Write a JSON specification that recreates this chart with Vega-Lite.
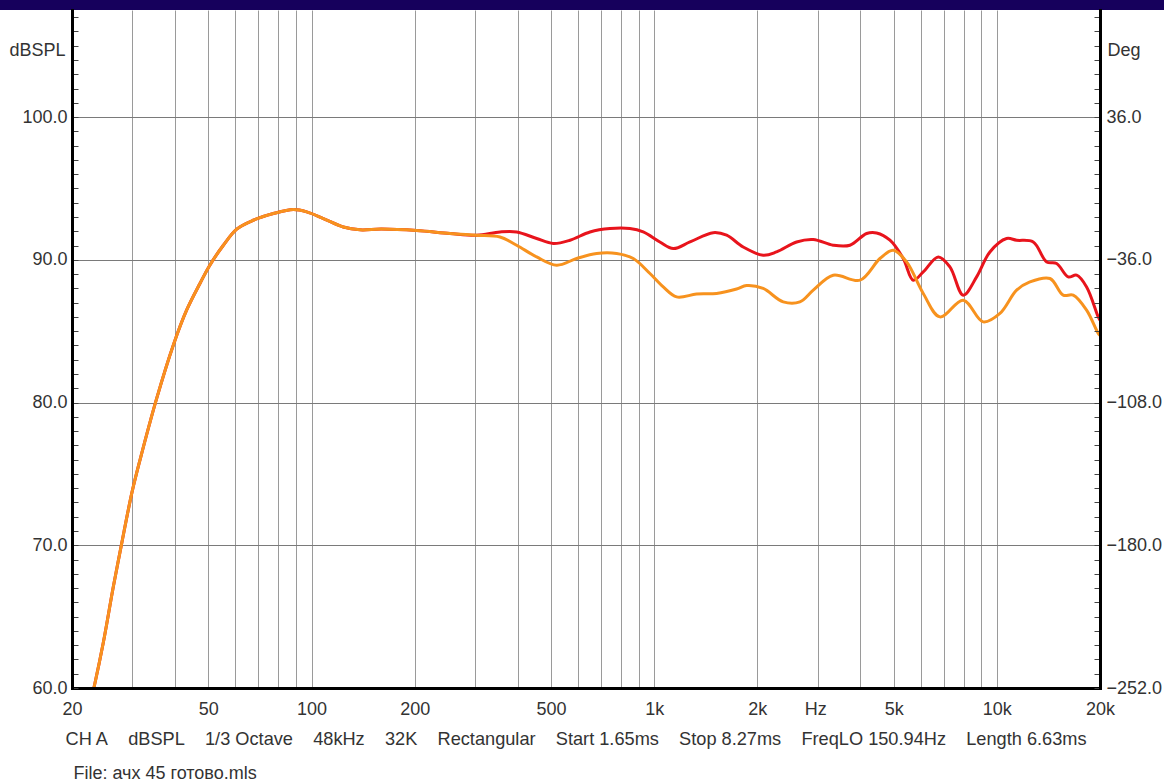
{
  "$schema": "https://vega.github.io/schema/vega-lite/v6.json",
  "width": 1028,
  "height": 678,
  "autosize": {"type": "none"},
  "padding": {"left": 72, "top": 10, "right": 64, "bottom": 94},
  "background": "white",
  "config": {
    "view": {"stroke": null},
    "font": "Liberation Sans",
    "axis": {
      "labelFont": "Liberation Sans",
      "titleFont": "Liberation Sans",
      "labelFontSize": 18,
      "titleFontSize": 18,
      "labelColor": "#333333",
      "titleColor": "#333333",
      "titleFontWeight": "normal",
      "labelFlush": false,
      "labelOverlap": false,
      "labelBound": false
    }
  },
  "datasets": {
    "curves": [
      {"curve": "red", "f": 22.8, "db": 59.3},
      {"curve": "red", "f": 23.34, "db": 60.35},
      {"curve": "red", "f": 24.67, "db": 63.15},
      {"curve": "red", "f": 26.4, "db": 67.09},
      {"curve": "red", "f": 27.93, "db": 70.13},
      {"curve": "red", "f": 29.88, "db": 73.63},
      {"curve": "red", "f": 31.58, "db": 75.97},
      {"curve": "red", "f": 35.35, "db": 80.31},
      {"curve": "red", "f": 39.5, "db": 84.02},
      {"curve": "red", "f": 43.2, "db": 86.47},
      {"curve": "red", "f": 47.3, "db": 88.36},
      {"curve": "red", "f": 50.5, "db": 89.62},
      {"curve": "red", "f": 55.3, "db": 91.02},
      {"curve": "red", "f": 60.5, "db": 92.15},
      {"curve": "red", "f": 67.6, "db": 92.77},
      {"curve": "red", "f": 77.4, "db": 93.24},
      {"curve": "red", "f": 88.5, "db": 93.52},
      {"curve": "red", "f": 96.8, "db": 93.36},
      {"curve": "red", "f": 108.3, "db": 92.89},
      {"curve": "red", "f": 123.8, "db": 92.3},
      {"curve": "red", "f": 138.5, "db": 92.1},
      {"curve": "red", "f": 160, "db": 92.15},
      {"curve": "red", "f": 202.7, "db": 92.05},
      {"curve": "red", "f": 253.6, "db": 91.84},
      {"curve": "red", "f": 303.4, "db": 91.72},
      {"curve": "red", "f": 354.8, "db": 91.95},
      {"curve": "red", "f": 396.9, "db": 91.95},
      {"curve": "red", "f": 454, "db": 91.49},
      {"curve": "red", "f": 507.6, "db": 91.14},
      {"curve": "red", "f": 568, "db": 91.37},
      {"curve": "red", "f": 649.6, "db": 91.95},
      {"curve": "red", "f": 743, "db": 92.19},
      {"curve": "red", "f": 849.6, "db": 92.19},
      {"curve": "red", "f": 929, "db": 91.95},
      {"curve": "red", "f": 1039, "db": 91.25},
      {"curve": "red", "f": 1137, "db": 90.79},
      {"curve": "red", "f": 1272, "db": 91.25},
      {"curve": "red", "f": 1487, "db": 91.9},
      {"curve": "red", "f": 1627, "db": 91.72},
      {"curve": "red", "f": 1819, "db": 90.9},
      {"curve": "red", "f": 2080, "db": 90.32},
      {"curve": "red", "f": 2276, "db": 90.55},
      {"curve": "red", "f": 2604, "db": 91.25},
      {"curve": "red", "f": 2912, "db": 91.42},
      {"curve": "red", "f": 3330, "db": 91.02},
      {"curve": "red", "f": 3726, "db": 91.02},
      {"curve": "red", "f": 4168, "db": 91.84},
      {"curve": "red", "f": 4458, "db": 91.88},
      {"curve": "red", "f": 4876, "db": 91.37},
      {"curve": "red", "f": 5331, "db": 90.09},
      {"curve": "red", "f": 5702, "db": 88.57},
      {"curve": "red", "f": 6098, "db": 89.15},
      {"curve": "red", "f": 6746, "db": 90.2},
      {"curve": "red", "f": 7295, "db": 89.5},
      {"curve": "red", "f": 7978, "db": 87.52},
      {"curve": "red", "f": 8730, "db": 88.8},
      {"curve": "red", "f": 9544, "db": 90.55},
      {"curve": "red", "f": 10678, "db": 91.49},
      {"curve": "red", "f": 11420, "db": 91.37},
      {"curve": "red", "f": 12770, "db": 91.25},
      {"curve": "red", "f": 13976, "db": 89.85},
      {"curve": "red", "f": 14943, "db": 89.74},
      {"curve": "red", "f": 16152, "db": 88.8},
      {"curve": "red", "f": 17090, "db": 88.92},
      {"curve": "red", "f": 18278, "db": 88.1},
      {"curve": "red", "f": 19762, "db": 86.0},
      {"curve": "red", "f": 20000, "db": 85.77},

      {"curve": "orange", "f": 22.8, "db": 59.3},
      {"curve": "orange", "f": 23.34, "db": 60.35},
      {"curve": "orange", "f": 24.67, "db": 63.15},
      {"curve": "orange", "f": 26.4, "db": 67.09},
      {"curve": "orange", "f": 27.93, "db": 70.13},
      {"curve": "orange", "f": 29.88, "db": 73.63},
      {"curve": "orange", "f": 31.58, "db": 75.97},
      {"curve": "orange", "f": 35.35, "db": 80.31},
      {"curve": "orange", "f": 39.5, "db": 84.02},
      {"curve": "orange", "f": 43.2, "db": 86.47},
      {"curve": "orange", "f": 47.3, "db": 88.36},
      {"curve": "orange", "f": 50.5, "db": 89.62},
      {"curve": "orange", "f": 55.3, "db": 91.02},
      {"curve": "orange", "f": 60.5, "db": 92.15},
      {"curve": "orange", "f": 67.6, "db": 92.77},
      {"curve": "orange", "f": 77.4, "db": 93.24},
      {"curve": "orange", "f": 88.5, "db": 93.52},
      {"curve": "orange", "f": 96.8, "db": 93.36},
      {"curve": "orange", "f": 108.3, "db": 92.89},
      {"curve": "orange", "f": 123.8, "db": 92.3},
      {"curve": "orange", "f": 138.5, "db": 92.1},
      {"curve": "orange", "f": 160, "db": 92.15},
      {"curve": "orange", "f": 202.7, "db": 92.05},
      {"curve": "orange", "f": 253.6, "db": 91.84},
      {"curve": "orange", "f": 303.4, "db": 91.72},
      {"curve": "orange", "f": 354.8, "db": 91.6},
      {"curve": "orange", "f": 396.9, "db": 91.02},
      {"curve": "orange", "f": 454, "db": 90.2},
      {"curve": "orange", "f": 519.4, "db": 89.62},
      {"curve": "orange", "f": 594, "db": 90.09},
      {"curve": "orange", "f": 679.4, "db": 90.44},
      {"curve": "orange", "f": 777, "db": 90.44},
      {"curve": "orange", "f": 869, "db": 90.09},
      {"curve": "orange", "f": 972, "db": 89.04},
      {"curve": "orange", "f": 1063, "db": 88.1},
      {"curve": "orange", "f": 1163, "db": 87.4},
      {"curve": "orange", "f": 1330, "db": 87.6},
      {"curve": "orange", "f": 1521, "db": 87.64},
      {"curve": "orange", "f": 1740, "db": 87.95},
      {"curve": "orange", "f": 1861, "db": 88.2},
      {"curve": "orange", "f": 2080, "db": 87.99},
      {"curve": "orange", "f": 2380, "db": 87.05},
      {"curve": "orange", "f": 2662, "db": 87.05},
      {"curve": "orange", "f": 2912, "db": 87.87},
      {"curve": "orange", "f": 3330, "db": 88.92},
      {"curve": "orange", "f": 3986, "db": 88.57},
      {"curve": "orange", "f": 4558, "db": 90.09},
      {"curve": "orange", "f": 4984, "db": 90.67},
      {"curve": "orange", "f": 5454, "db": 89.85},
      {"curve": "orange", "f": 6098, "db": 87.64},
      {"curve": "orange", "f": 6822, "db": 86.0},
      {"curve": "orange", "f": 7978, "db": 87.17},
      {"curve": "orange", "f": 9124, "db": 85.65},
      {"curve": "orange", "f": 10210, "db": 86.24},
      {"curve": "orange", "f": 11420, "db": 87.87},
      {"curve": "orange", "f": 12488, "db": 88.45},
      {"curve": "orange", "f": 14286, "db": 88.69},
      {"curve": "orange", "f": 15616, "db": 87.52},
      {"curve": "orange", "f": 16702, "db": 87.52},
      {"curve": "orange", "f": 18278, "db": 86.47},
      {"curve": "orange", "f": 19762, "db": 84.84},
      {"curve": "orange", "f": 20000, "db": 84.7}
    ],
    "banner": [{"f1": 12, "f2": 31000, "d1": 107.5, "d2": 109}]
  },
  "resolve": {"axis": {"x": "independent", "y": "independent"}},
  "layer": [
    {
      "data": {"name": "curves"},
      "transform": [{"filter": "datum.curve == 'red'"}],
      "mark": {"type": "line", "color": "#e8141c", "strokeWidth": 3, "interpolate": "catmull-rom", "clip": true},
      "encoding": {
        "x": {
          "field": "f", "type": "quantitative",
          "scale": {"type": "log", "domain": [20, 20000], "nice": false},
          "axis": {
            "orient": "bottom",
            "values": [30, 40, 50, 60, 70, 80, 90, 100, 200, 300, 400, 500, 600, 700, 800, 900, 1000, 2000, 3000, 4000, 5000, 6000, 7000, 8000, 9000, 10000, 20000],
            "grid": true, "gridColor": "#9a9a9a", "gridWidth": 1,
            "labels": false, "ticks": false, "domain": false,
            "zindex": 0,
            "title": "File: ачх 45 готово.mls",
            "titleX": 1, "titleY": 90, "titleAlign": "left", "titleBaseline": "alphabetic", "titleAngle": 0
          }
        },
        "y": {
          "field": "db", "type": "quantitative",
          "scale": {"domain": [60, 107.5], "nice": false, "zero": false},
          "axis": {
            "orient": "left",
            "values": [60, 70, 80, 90, 100],
            "format": ".1f",
            "grid": true, "gridColor": "#7a7a7a", "gridWidth": 1,
            "ticks": false, "domain": false, "labelPadding": 5,
            "zindex": 0,
            "title": "dBSPL",
            "titleAngle": 0, "titleX": -7, "titleY": 40, "titleAlign": "right", "titleBaseline": "middle"
          }
        }
      }
    },
    {
      "data": {"name": "curves"},
      "transform": [{"filter": "datum.curve == 'orange'"}],
      "mark": {"type": "line", "color": "#f7921e", "strokeWidth": 3, "interpolate": "catmull-rom", "clip": true},
      "encoding": {
        "x": {
          "field": "f", "type": "quantitative",
          "axis": {
            "orient": "bottom",
            "values": [20, 50, 100, 200, 500, 1000, 2000, 2950, 5000, 10000, 20000],
            "labelExpr": "datum.value == 2950 ? 'Hz' : (datum.value >= 1000 ? (datum.value / 1000) + 'k' : '' + datum.value)",
            "grid": false, "ticks": false,
            "domain": true, "domainColor": "#000000", "domainWidth": 3, "domainCap": "square",
            "labelPadding": 12,
            "zindex": 1,
            "title": "CH A\u00a0\u00a0\u00a0\u00a0dBSPL\u00a0\u00a0\u00a0\u00a01/3 Octave\u00a0\u00a0\u00a0\u00a048kHz\u00a0\u00a0\u00a0\u00a032K\u00a0\u00a0\u00a0\u00a0Rectangular\u00a0\u00a0\u00a0\u00a0Start 1.65ms\u00a0\u00a0\u00a0\u00a0Stop 8.27ms\u00a0\u00a0\u00a0\u00a0FreqLO 150.94Hz\u00a0\u00a0\u00a0\u00a0Length 6.63ms",
            "titleX": -7, "titleY": 56, "titleAlign": "left", "titleBaseline": "alphabetic", "titleAngle": 0, "titleFontSize": 18.2
          }
        },
        "y": {
          "field": "db", "type": "quantitative",
          "axis": {
            "orient": "right",
            "values": [60, 70, 80, 90, 100],
            "labelExpr": "format((datum.value - 60) * 7.2 - 252, '.1f')",
            "grid": false, "ticks": false, "domain": false, "labelPadding": 6,
            "zindex": 0,
            "title": "Deg",
            "titleAngle": 0, "titleX": 7, "titleY": 40, "titleAlign": "left", "titleBaseline": "middle"
          }
        }
      }
    },
    {
      "data": {"name": "banner"},
      "mark": {"type": "rect", "color": "#16005c", "clip": false},
      "encoding": {
        "x": {"field": "f1", "type": "quantitative", "axis": null},
        "x2": {"field": "f2"},
        "y": {
          "field": "d1", "type": "quantitative",
          "axis": {
            "orient": "left",
            "values": [60, 61, 62, 63, 64, 65, 66, 67, 68, 69, 70, 71, 72, 73, 74, 75, 76, 77, 78, 79, 80, 81, 82, 83, 84, 85, 86, 87, 88, 89, 90, 91, 92, 93, 94, 95, 96, 97, 98, 99, 100, 101, 102, 103, 104, 105, 106, 107],
            "labels": false, "grid": false,
            "ticks": true, "tickSize": -6, "tickColor": "#444444", "tickWidth": 1,
            "domain": true, "domainColor": "#000000", "domainWidth": 3, "domainCap": "square",
            "zindex": 1, "title": null
          }
        },
        "y2": {"field": "d2"}
      }
    },
    {
      "data": {"name": "banner"},
      "mark": {"type": "point", "opacity": 0, "clip": true},
      "encoding": {
        "x": {"field": "f1", "type": "quantitative", "axis": null},
        "y": {
          "field": "d1", "type": "quantitative",
          "axis": {
            "orient": "right",
            "values": [60, 61, 62, 63, 64, 65, 66, 67, 68, 69, 70, 71, 72, 73, 74, 75, 76, 77, 78, 79, 80, 81, 82, 83, 84, 85, 86, 87, 88, 89, 90, 91, 92, 93, 94, 95, 96, 97, 98, 99, 100, 101, 102, 103, 104, 105, 106, 107],
            "labels": false, "grid": false,
            "ticks": true, "tickSize": -6, "tickColor": "#444444", "tickWidth": 1,
            "domain": true, "domainColor": "#000000", "domainWidth": 3, "domainCap": "square",
            "zindex": 1, "title": null
          }
        }
      }
    }
  ]
}
